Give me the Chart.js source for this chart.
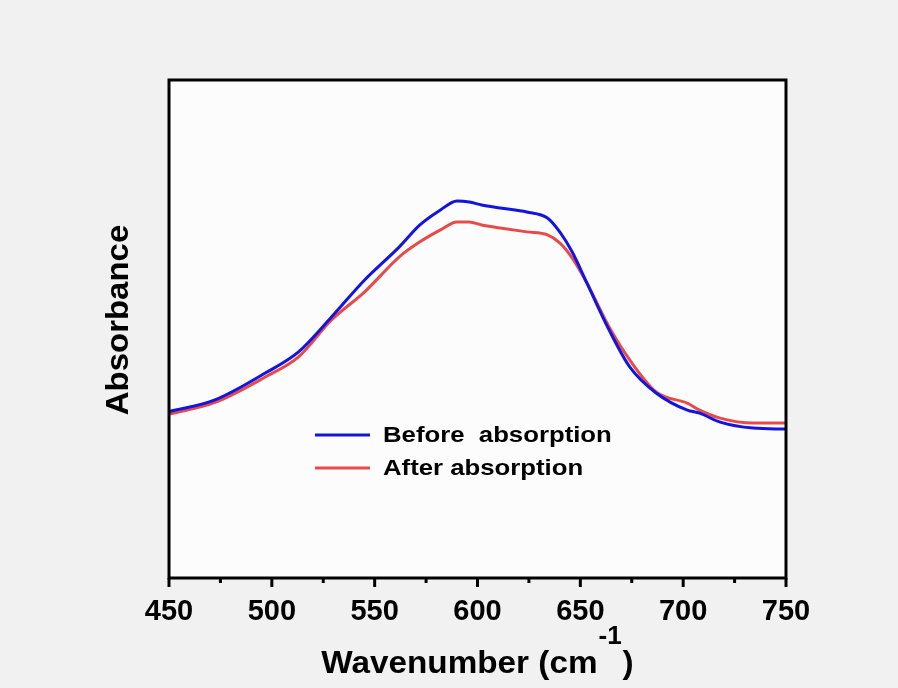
<!DOCTYPE html>
<html>
<head>
<meta charset="utf-8">
<script src="https://cdn.jsdelivr.net/npm/chart.js@4"></script>
<style>
  html, body { margin: 0; padding: 0; background: #f1f1f1; }
  #wrap { width: 898px; height: 688px; }
</style>
</head>
<body>
<div id="wrap"><canvas id="c" width="898" height="688"></canvas></div>
<script>
// Wavenumber (cm-1) sampling points
const wavenumbers = [450, 472, 497, 513, 529, 545, 562, 572, 582, 590, 596, 602, 611, 624, 634, 640, 646, 653, 664, 674, 687, 702, 708, 718, 734, 750];
// Absorbance (arbitrary units) before and after absorption
const beforeAbs = [0.334, 0.357, 0.412, 0.454, 0.524, 0.598, 0.665, 0.709, 0.739, 0.757, 0.755, 0.749, 0.743, 0.735, 0.723, 0.695, 0.655, 0.594, 0.498, 0.424, 0.371, 0.337, 0.331, 0.313, 0.301, 0.299];
const afterAbs  = [0.329, 0.352, 0.404, 0.444, 0.518, 0.574, 0.645, 0.675, 0.699, 0.715, 0.715, 0.709, 0.703, 0.695, 0.689, 0.673, 0.643, 0.594, 0.504, 0.438, 0.373, 0.351, 0.337, 0.321, 0.311, 0.311];
const seriesLabels = ['Before  absorption', 'After absorption'];
const majorTicks = [450, 500, 550, 600, 650, 700, 750];
const minorTicks = [475, 525, 575, 625, 675, 725];

const toPoints = ys => wavenumbers.map((x, i) => ({ x, y: ys[i] }));

const FONT = '"Liberation Sans", Arial, sans-serif';

// draw text stretched horizontally by sx, left-aligned at (x, y)
function wideText(ctx, text, x, y, sx) {
  ctx.save();
  ctx.translate(x, y);
  ctx.scale(sx, 1);
  ctx.fillText(text, 0, 0);
  ctx.restore();
}

// Page background, white plot area, frame, ticks, titles and legend
const framePlugin = {
  id: 'frame',
  beforeDraw(chart) {
    const { ctx, chartArea: a } = chart;
    ctx.save();
    ctx.fillStyle = '#f1f1f1';
    ctx.fillRect(0, 0, chart.width, chart.height);
    ctx.fillStyle = '#fcfcfc';
    ctx.fillRect(a.left, a.top, a.right - a.left, a.bottom - a.top);
    ctx.restore();
  },
  afterDraw(chart) {
    const { ctx, chartArea: a } = chart;
    const xs = chart.scales.x;
    ctx.save();
    ctx.strokeStyle = '#000';
    ctx.lineWidth = 3;
    ctx.strokeRect(a.left, a.top, a.right - a.left, a.bottom - a.top);
    // outward tick marks on the bottom axis
    majorTicks.forEach(v => {
      const px = xs.getPixelForValue(v);
      ctx.beginPath(); ctx.moveTo(px, a.bottom); ctx.lineTo(px, a.bottom + 9); ctx.stroke();
    });
    minorTicks.forEach(v => {
      const px = xs.getPixelForValue(v);
      ctx.beginPath(); ctx.moveTo(px, a.bottom); ctx.lineTo(px, a.bottom + 5); ctx.stroke();
    });

    ctx.fillStyle = '#000';
    ctx.textBaseline = 'alphabetic';
    ctx.textAlign = 'left';

    // y title, rotated
    ctx.save();
    ctx.translate(128, 320);
    ctx.rotate(-Math.PI / 2);
    ctx.font = 'bold 32px ' + FONT;
    const sy = 1.03;
    const wy = ctx.measureText('Absorbance').width * sy;
    wideText(ctx, 'Absorbance', -wy / 2, 0, sy);
    ctx.restore();

    // x title with superscript
    const sx = 1.04;
    const main = 'Wavenumber (cm', sup = '-1', tail = ')';
    ctx.font = 'bold 32px ' + FONT;
    const wMain = ctx.measureText(main).width * sx;
    const wTail = ctx.measureText(tail).width * sx;
    ctx.font = 'bold 25px ' + FONT;
    const wSup = ctx.measureText(sup).width * sx;
    const total = wMain + wSup + wTail + 2;
    const x0 = (a.left + a.right) / 2 - total / 2;
    const base = 673;
    ctx.font = 'bold 32px ' + FONT;
    wideText(ctx, main, x0, base, sx);
    ctx.font = 'bold 25px ' + FONT;
    wideText(ctx, sup, x0 + wMain + 1, 644, sx);
    ctx.font = 'bold 32px ' + FONT;
    wideText(ctx, tail, x0 + wMain + wSup + 2, base, sx);

    // legend inside the plot
    const ly = [435, 468];
    chart.data.datasets.forEach((ds, i) => {
      ctx.strokeStyle = ds.borderColor;
      ctx.lineWidth = 3;
      ctx.beginPath(); ctx.moveTo(315, ly[i]); ctx.lineTo(370, ly[i]); ctx.stroke();
      ctx.fillStyle = '#000';
      ctx.font = 'bold 22px ' + FONT;
      ctx.textBaseline = 'middle';
      wideText(ctx, ds.label, 383, ly[i] + 1, 1.17);
    });
    ctx.restore();
  }
};

new Chart(document.getElementById('c'), {
  type: 'line',
  data: {
    datasets: [
      { label: seriesLabels[0], data: toPoints(beforeAbs), borderColor: '#1414e0', borderWidth: 3, pointRadius: 0, cubicInterpolationMode: 'monotone', fill: false },
      { label: seriesLabels[1], data: toPoints(afterAbs), borderColor: '#e84a4a', borderWidth: 3, pointRadius: 0, cubicInterpolationMode: 'monotone', fill: false }
    ]
  },
  options: {
    responsive: false,
    animation: false,
    layout: { padding: { left: 169, right: 112, top: 80, bottom: 0 } },
    plugins: { legend: { display: false }, tooltip: { enabled: false } },
    scales: {
      x: {
        type: 'linear',
        min: 450, max: 750,
        afterBuildTicks(scale) { scale.ticks = majorTicks.map(v => ({ value: v })); },
        afterFit(scale) { scale.height = 110; },
        grid: { display: false, drawTicks: false },
        border: { display: false },
        ticks: { color: '#000', font: { family: FONT, size: 29, weight: 'bold' }, padding: 17, maxRotation: 0, autoSkip: false }
      },
      y: {
        display: false,
        min: 0, max: 1
      }
    }
  },
  plugins: [framePlugin]
});
</script>
</body>
</html>
